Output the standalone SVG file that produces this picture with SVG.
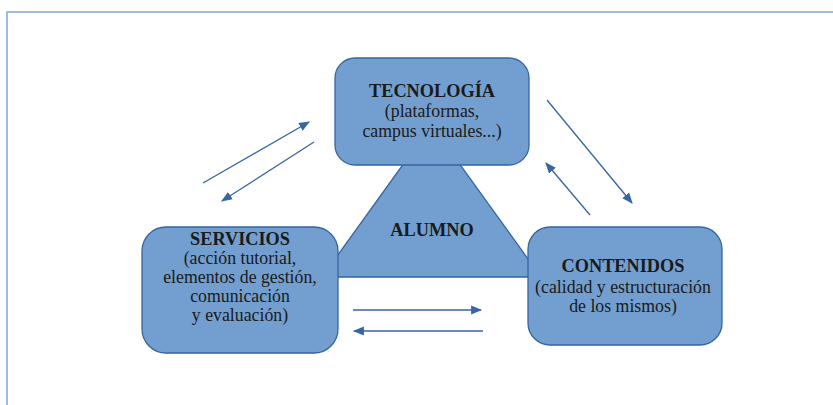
<svg xmlns="http://www.w3.org/2000/svg" width="833" height="405" viewBox="0 0 833 405">
<defs>
<style>
.box{fill:#729fcf;stroke:#3465a4;stroke-width:1.3}
.t{font-family:"Liberation Serif","Times New Roman",serif;fill:#1a1a1a;text-anchor:middle}
.b{font-weight:bold;font-size:18.3px}
.r{font-size:17.8px}
.c{stroke:#3465a4;stroke-width:1.3;fill:none;marker-end:url(#ah)}
</style>
<marker id="ah" viewBox="0 0 10 10" refX="9" refY="5" markerWidth="11" markerHeight="11" markerUnits="userSpaceOnUse" orient="auto">
<path d="M0,1 L10,5 L0,9 Z" fill="#3465a4"/>
</marker>
</defs>
<rect x="0" y="0" width="833" height="405" fill="#ffffff"/>
<rect x="7" y="12" width="900" height="450" fill="none" stroke="#7fa7d4" stroke-width="1.5"/>
<g id="alumno">
<polygon points="431.5,125 322,277 541,277" class="box"/>
<text class="t b" x="432" y="236">ALUMNO</text>
</g>
<g id="tecnologia">
<rect x="335" y="58" width="194" height="107" rx="20" class="box"/>
<text class="t b" x="432" y="97">TECNOLOGÍA</text>
<text class="t r" x="432" y="117">(plataformas,</text>
<text class="t r" x="432" y="137">campus virtuales...)</text>
</g>
<g id="servicios">
<rect x="142" y="227" width="196" height="126" rx="24" class="box"/>
<text class="t b" x="240" y="245">SERVICIOS</text>
<text class="t r" x="240" y="264">(acción tutorial,</text>
<text class="t r" x="240" y="283">elementos de gestión,</text>
<text class="t r" x="240" y="302">comunicación</text>
<text class="t r" x="240" y="321">y evaluación)</text>
</g>
<g id="contenidos">
<rect x="528" y="227" width="194" height="118" rx="22" class="box"/>
<text class="t b" x="623" y="272">CONTENIDOS</text>
<text class="t r" x="623" y="293">(calidad y estructuración</text>
<text class="t r" x="623" y="312">de los mismos)</text>
</g>
<g id="connectors">
<line x1="203" y1="183" x2="309" y2="122" class="c"/>
<line x1="314" y1="142" x2="222" y2="201" class="c"/>
<line x1="547" y1="100" x2="632" y2="203" class="c"/>
<line x1="590" y1="215" x2="546" y2="163" class="c"/>
<line x1="353" y1="310" x2="481" y2="310" class="c"/>
<line x1="483" y1="331" x2="354" y2="331" class="c"/>
</g>
</svg>
